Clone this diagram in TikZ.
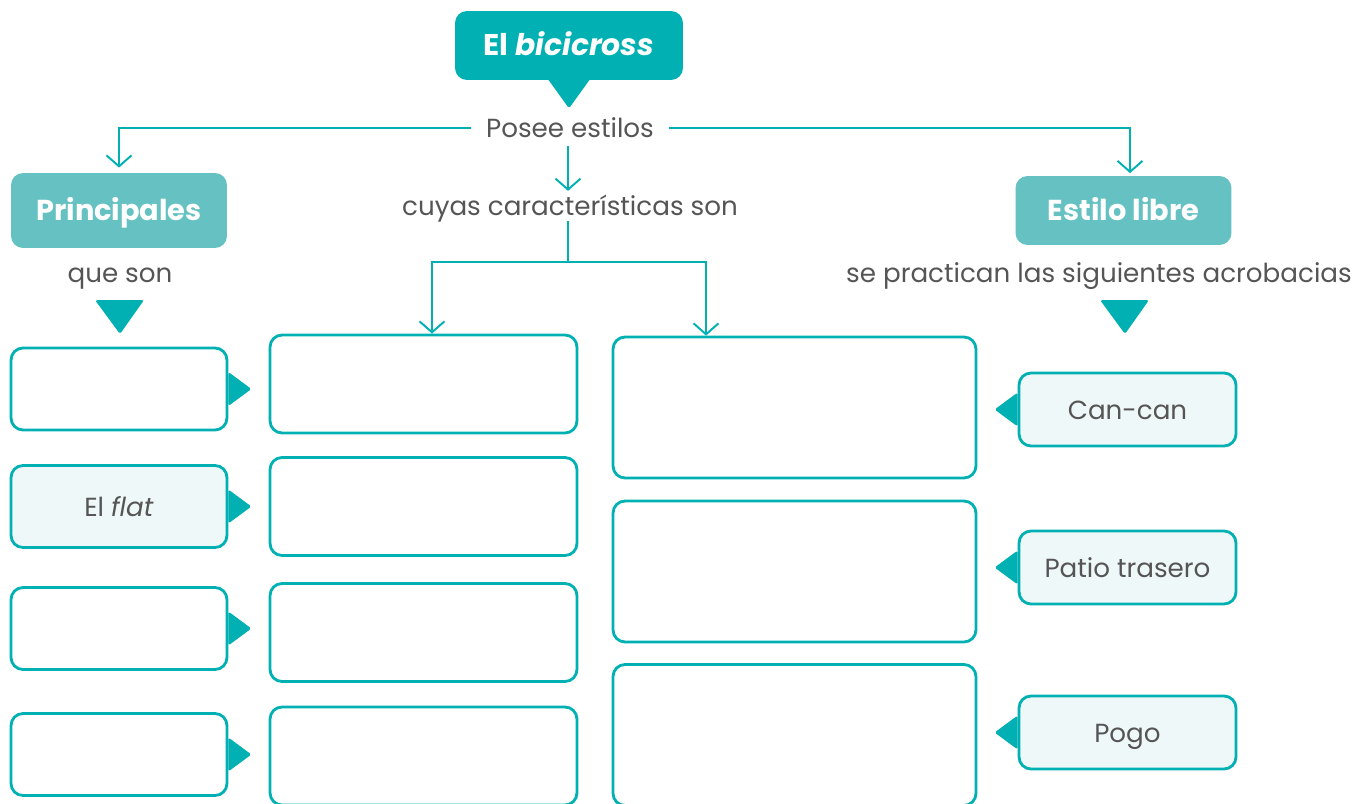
\documentclass[tikz,border=0pt]{standalone}
\usepackage{fontspec}
\setmainfont{Poppins}
\usepackage{xcolor}
\usetikzlibrary{positioning,arrows.meta}
\definecolor{tealdark}{HTML}{00B0B3}
\definecolor{teallight}{HTML}{66C2C2}
\definecolor{palefill}{HTML}{EFF8F8}
\definecolor{ink}{HTML}{555555}

\begin{document}
\begin{tikzpicture}[
  x=0.02cm,y=-0.02cm,
  every node/.style={text height=1.2em,text depth=0.08em},
  headbox/.style={rectangle,rounded corners=0.24cm,fill=tealdark,text=white,font=\fontsize{17}{20}\selectfont\bfseries,minimum width=4.56cm,minimum height=1.38cm},
  catbox/.style={rectangle,rounded corners=0.24cm,fill=teallight,text=white,font=\fontsize{16.4}{19}\selectfont\bfseries,minimum width=4.32cm,minimum height=1.38cm},
  note/.style={text=ink,font=\fontsize{14.9}{17}\selectfont,inner sep=2pt},
  blank/.style={rectangle,rounded corners=0.24cm,draw=tealdark,line width=1.6pt,fill=white},
  itembox/.style={blank,fill=palefill,text=ink,font=\fontsize{14.9}{17}\selectfont,minimum width=4.34cm,minimum height=1.46cm},
  arrow/.style={-{Straight Barb[length=2.2mm,width=5mm]},draw=tealdark,line width=1.1pt},
  line/.style={draw=tealdark,line width=1.1pt},
  pointer/.style={fill=tealdark,rounded corners=1pt}
]
\useasboundingbox (0,0) rectangle (1359,804);
% title and its labels
\node[headbox] (title) at (569,45.5) {El \textit{bicicross}};
\fill[pointer] ([xshift=-0.44cm,yshift=0.05cm]title.south) -- ([yshift=-0.56cm]title.south) -- ([xshift=0.44cm,yshift=0.05cm]title.south) -- cycle;
\node[note,inner xsep=0.3cm] (posee) at (570,128) {Posee estilos};
\node[note] (cuyas) at (570,206) {cuyas características son};
\node[catbox,minimum height=1.5cm] (princ) at (119,210.5) {Principales};
\node[catbox] (libre) at (1123.5,210.5) {Estilo libre};
\node[note] (queson) at (120,273) {que son};
\node[note] (acro) at (1099,273) {se practican las siguientes acrobacias};
\fill[pointer] (95,300) -- (144,300) -- (120,334) -- cycle;
\fill[pointer] (1100,300) -- (1149,300) -- (1125,334) -- cycle;
% boxes
\node[blank,minimum width=4.32cm,minimum height=1.64cm] (l1) at (119,389) {};
\node[blank,fill=palefill,text=ink,font=\fontsize{14.9}{17}\selectfont,minimum width=4.32cm,minimum height=1.64cm] (l2) at (119,506.5) {El \textit{flat}};
\node[blank,minimum width=4.32cm,minimum height=1.64cm] (l3) at (119,628.5) {};
\node[blank,minimum width=4.32cm,minimum height=1.64cm] (l4) at (119,754.5) {};
\node[blank,minimum width=6.14cm,minimum height=1.96cm] (m1) at (423.5,384) {};
\node[blank,minimum width=6.14cm,minimum height=1.96cm] (m2) at (423.5,506.5) {};
\node[blank,minimum width=6.14cm,minimum height=1.96cm] (m3) at (423.5,632.5) {};
\node[blank,minimum width=6.14cm,minimum height=1.96cm] (m4) at (423.5,756) {};
\node[blank,minimum width=7.26cm,minimum height=2.82cm] (c1) at (794.5,407.5) {};
\node[blank,minimum width=7.26cm,minimum height=2.82cm] (c2) at (794.5,571.5) {};
\node[blank,minimum width=7.26cm,minimum height=2.82cm] (c3) at (794.5,735) {};
\node[itembox] (r1) at (1127.5,409.5) {Can-can};
\node[itembox] (r2) at (1127.5,567.5) {Patio trasero};
\node[itembox] (r3) at (1127.5,732.5) {Pogo};
% pointers
\foreach \b in {l1,l2,l3,l4}
  \fill[pointer] ([yshift=0.34cm]\b.east) -- ([xshift=0.46cm]\b.east) -- ([yshift=-0.34cm]\b.east) -- cycle;
\foreach \b in {r1,r2,r3}
  \fill[pointer] ([yshift=0.34cm]\b.west) -- ([xshift=-0.46cm]\b.west) -- ([yshift=-0.34cm]\b.west) -- cycle;
% connectors
\draw[arrow,shorten >=0.1cm] (posee.west) -| (princ.north);
\draw[arrow,shorten >=0.05cm] (posee.east) -| ([xshift=0.13cm]libre.north);
\draw[arrow,shorten <=0.05cm] ([xshift=-0.04cm]posee.south) -- ([xshift=-0.04cm]cuyas.north);
\coordinate (split) at (568,262);
\draw[line] ([xshift=-0.04cm]cuyas.south) -- (split);
\draw[arrow] (split) -| ([xshift=0.17cm]m1.north);
\draw[arrow] (split) -| ([xshift=-1.77cm]c1.north);
\end{tikzpicture}
\end{document}
